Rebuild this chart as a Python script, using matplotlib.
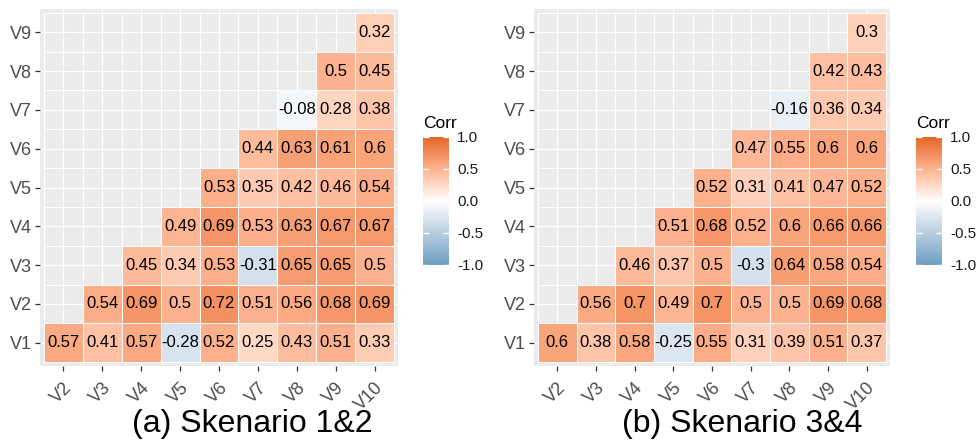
import numpy as np
import matplotlib
matplotlib.use("Agg")
import matplotlib.pyplot as plt
import matplotlib.colors as mcolors

plt.rcParams['font.family'] = ['Liberation Sans', 'DejaVu Sans']

x_vars = ['V2', 'V3', 'V4', 'V5', 'V6', 'V7', 'V8', 'V9', 'V10']
y_vars = ['V1', 'V2', 'V3', 'V4', 'V5', 'V6', 'V7', 'V8', 'V9']

# each row: correlations of Vi with V(i+1)..V10
corr_a = [
    [0.57, 0.41, 0.57, -0.28, 0.52, 0.25, 0.43, 0.51, 0.33],
    [0.54, 0.69, 0.5, 0.72, 0.51, 0.56, 0.68, 0.69],
    [0.45, 0.34, 0.53, -0.31, 0.65, 0.65, 0.5],
    [0.49, 0.69, 0.53, 0.63, 0.67, 0.67],
    [0.53, 0.35, 0.42, 0.46, 0.54],
    [0.44, 0.63, 0.61, 0.6],
    [-0.08, 0.28, 0.38],
    [0.5, 0.45],
    [0.32],
]
corr_b = [
    [0.6, 0.38, 0.58, -0.25, 0.55, 0.31, 0.39, 0.51, 0.37],
    [0.56, 0.7, 0.49, 0.7, 0.5, 0.5, 0.69, 0.68],
    [0.46, 0.37, 0.5, -0.3, 0.64, 0.58, 0.54],
    [0.51, 0.68, 0.52, 0.6, 0.66, 0.66],
    [0.52, 0.31, 0.41, 0.47, 0.52],
    [0.47, 0.55, 0.6, 0.6],
    [-0.16, 0.36, 0.34],
    [0.42, 0.43],
    [0.3],
]
captions = ['(a) Skenario 1&2', '(b) Skenario 3&4']
cbar_ticks = [-1.0, -0.5, 0.0, 0.5, 1.0]


# ggplot's gradient2 interpolates in Lab space
WHITE = np.array([0.95047, 1.0, 1.08883])
M = np.array([[0.4124, 0.3576, 0.1805], [0.2126, 0.7152, 0.0722], [0.0193, 0.1192, 0.9505]])

def to_lab(c):
    rgb = np.array(mcolors.to_rgb(c))
    lin = np.where(rgb <= 0.04045, rgb / 12.92, ((rgb + 0.055) / 1.055) ** 2.4)
    xyz = M @ lin / WHITE
    f = np.where(xyz > (6 / 29) ** 3, np.cbrt(xyz), xyz / (3 * (6 / 29) ** 2) + 4 / 29)
    return np.array([116 * f[1] - 16, 500 * (f[0] - f[1]), 200 * (f[1] - f[2])])

def from_lab(lab):
    fy = (lab[0] + 16) / 116
    f = np.array([fy + lab[1] / 500, fy, fy - lab[2] / 200])
    xyz = np.where(f > 6 / 29, f ** 3, 3 * (6 / 29) ** 2 * (f - 4 / 29)) * WHITE
    lin = np.linalg.solve(M, xyz)
    rgb = np.where(lin <= 0.0031308, 12.92 * lin, 1.055 * np.clip(lin, 0, None) ** (1 / 2.4) - 0.055)
    return np.clip(rgb, 0, 1)

low, mid, high = to_lab('#6D9EC1'), to_lab('white'), to_lab('#E46726')
cols = []
for t in np.linspace(-1, 1, 256):
    if t < 0:
        cols.append(from_lab(mid + (-t) * (low - mid)))
    else:
        cols.append(from_lab(mid + t * (high - mid)))
cmap = mcolors.ListedColormap(cols)
norm = mcolors.Normalize(-1, 1)

W, H = 978, 443
fig = plt.figure(figsize=(W / 100, H / 100), dpi=100)

def px_axes(x0, y0, x1, y1):
    return fig.add_axes([x0 / W, 1 - y1 / H, (x1 - x0) / W, (y1 - y0) / H])

panels = [(corr_a, (40, 9, 398, 366), (423, 137, 449, 265), 252),
          (corr_b, (534, 9, 890, 366), (916, 137, 942, 265), 742)]

for (corr, pbox, cbox, cap_x), cap in zip(panels, captions):
    ax = px_axes(*pbox)
    n = len(x_vars)
    mat = np.full((n, n), np.nan)
    for i, row in enumerate(corr):
        for k, v in enumerate(row):
            mat[i, i + k] = v
    data = np.ma.masked_invalid(mat)
    ax.set_facecolor('#EBEBEB')
    ax.set_axisbelow(True)
    ax.grid(True, color='white', linewidth=0.9)
    edges = np.arange(n + 1) - 0.5
    mesh = ax.pcolormesh(edges, edges, data, cmap=cmap, norm=norm,
                         edgecolors='white', linewidth=0.6)
    for i in range(n):
        for j in range(n):
            if not np.isnan(mat[i, j]):
                ax.text(j, i, f'{mat[i, j]:g}', ha='center', va='center',
                        fontsize=12, color='black')
    ax.set_xlim(-0.6, n - 0.4)
    ax.set_ylim(-0.6, n - 0.4)
    ax.set_xticks(range(n))
    ax.set_xticklabels(x_vars, rotation=45, ha='right', va='top', rotation_mode='anchor')
    ax.set_yticks(range(n))
    ax.set_yticklabels(y_vars)
    ax.tick_params(colors='#333333', labelcolor='#4D4D4D', labelsize=13,
                   length=3.5, width=0.9, pad=2.5)
    ax.tick_params(axis='x', pad=6)
    for s in ax.spines.values():
        s.set_visible(False)

    cax = px_axes(*cbox)
    cb = fig.colorbar(mesh, cax=cax, ticks=cbar_ticks)
    cb.outline.set_visible(False)
    cb.ax.set_yticklabels([f'{t:.1f}' for t in cbar_ticks])
    cb.ax.tick_params(direction='in', color='white', length=4, width=1,
                      labelsize=11, labelcolor='#1A1A1A', pad=6, left=True, right=True)
    fig.text(cbox[0] / W, 1 - 123 / H, 'Corr', ha='left', va='center', fontsize=12.5, color='black')

    fig.text(cap_x / W, 1 - 432 / H, cap, ha='center', va='baseline', fontsize=23, color='black')

fig.savefig('out.png', dpi=100)
